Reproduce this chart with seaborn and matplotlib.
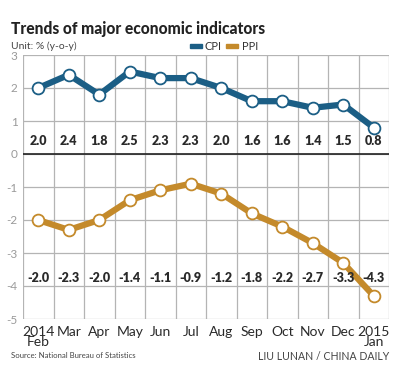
import matplotlib
matplotlib.use("Agg")
import matplotlib.pyplot as plt
import seaborn as sns
import pandas as pd
import numpy as np

# Data
months = ["2014\nFeb", "Mar", "Apr", "May", "Jun", "Jul", "Aug", "Sep", "Oct", "Nov", "Dec", "2015\nJan"]
cpi = [2.0, 2.4, 1.8, 2.5, 2.3, 2.3, 2.0, 1.6, 1.6, 1.4, 1.5, 0.8]
ppi = [-2.0, -2.3, -2.0, -1.4, -1.1, -0.9, -1.2, -1.8, -2.2, -2.7, -3.3, -4.3]
y_ticks = [3, 2, 1, 0, -1, -2, -3, -4, -5]

CPI_COLOR = "#1b5e85"
PPI_COLOR = "#c48a2b"

df = pd.DataFrame({
    "pos": list(range(len(months))) * 2,
    "value": cpi + ppi,
    "series": ["CPI"] * len(cpi) + ["PPI"] * len(ppi),
})

sns.set_style("white")
plt.rcParams["font.family"] = ["Lato", "DejaVu Sans"]

fig = plt.figure(figsize=(3.97, 3.81), dpi=100)
ax = fig.add_axes([23 / 397, 1 - 319 / 381, 366 / 397, 264 / 381])

sns.lineplot(data=df, x="pos", y="value", hue="series",
             palette={"CPI": CPI_COLOR, "PPI": PPI_COLOR},
             linewidth=4.5, marker="o", markersize=8.5,
             markerfacecolor="white", markeredgewidth=1.3,
             legend=False, ax=ax, zorder=3)
for line, color in zip(ax.lines, [CPI_COLOR, PPI_COLOR]):
    line.set_markeredgecolor(color)

ax.set_xlim(-0.5, len(months) - 0.5)
ax.set_ylim(-5, 3)
ax.set_xticks(np.arange(-0.5, len(months), 1.0), minor=False)
ax.set_xticklabels([])
ax.set_xticks(range(len(months)), minor=True)
ax.set_xticklabels(months, minor=True)
ax.set_yticks(y_ticks)
ax.set_yticklabels([str(t) for t in y_ticks])
ax.grid(True, which="major", color="#b4b4b4", linewidth=0.9)
ax.tick_params(axis="both", which="both", length=0)
ax.tick_params(axis="x", which="minor", labelsize=10, colors="#2a2a2a", pad=5)
ax.tick_params(axis="y", labelsize=8.5, colors="#9a9a9a", pad=4)
for lab in ax.get_xticklabels(minor=True):
    lab.set_linespacing(0.78)
for spine in ax.spines.values():
    spine.set_visible(False)
ax.axhline(0, color="#222222", linewidth=1.2, zorder=2)
ax.set_xlabel("")
ax.set_ylabel("")

# Value labels
for i, (c, p) in enumerate(zip(cpi, ppi)):
    ax.text(i, 0.4, f"{c:.1f}", ha="center", va="center", fontsize=9,
            fontweight="heavy", color="#2a2a2a", zorder=4)
    ax.text(i, -3.75, f"{p:.1f}", ha="center", va="center", fontsize=9,
            fontweight="heavy", color="#2a2a2a", zorder=4)

# Header texts
fig.text(11 / 397, 1 - 29 / 381, "Trends of major economic indicators",
         fontsize=11.2, fontweight="black", color="#222222", va="center")
fig.text(11 / 397, 1 - 46 / 381, "Unit: % (y-o-y)", fontsize=7.5,
         color="#444444", va="center")

# Legend
fig.patches.append(plt.Rectangle((190 / 397, 1 - 48 / 381), 12 / 397, 4 / 381,
                                 transform=fig.transFigure, color=CPI_COLOR))
fig.text(205 / 397, 1 - 46 / 381, "CPI", fontsize=8, color="#333333", va="center")
fig.patches.append(plt.Rectangle((226 / 397, 1 - 48 / 381), 12 / 397, 4 / 381,
                                 transform=fig.transFigure, color=PPI_COLOR))
fig.text(242 / 397, 1 - 46 / 381, "PPI", fontsize=8, color="#333333", va="center")

# Footer
fig.text(11 / 397, 1 - 355 / 381, "Source: National Bureau of Statistics",
         fontsize=5.6, color="#444444", va="center")
fig.text(389 / 397, 1 - 357 / 381, "LIU LUNAN / CHINA DAILY", fontsize=7.6,
         color="#444444", va="center", ha="right")

fig.savefig("out.png", dpi=100)
